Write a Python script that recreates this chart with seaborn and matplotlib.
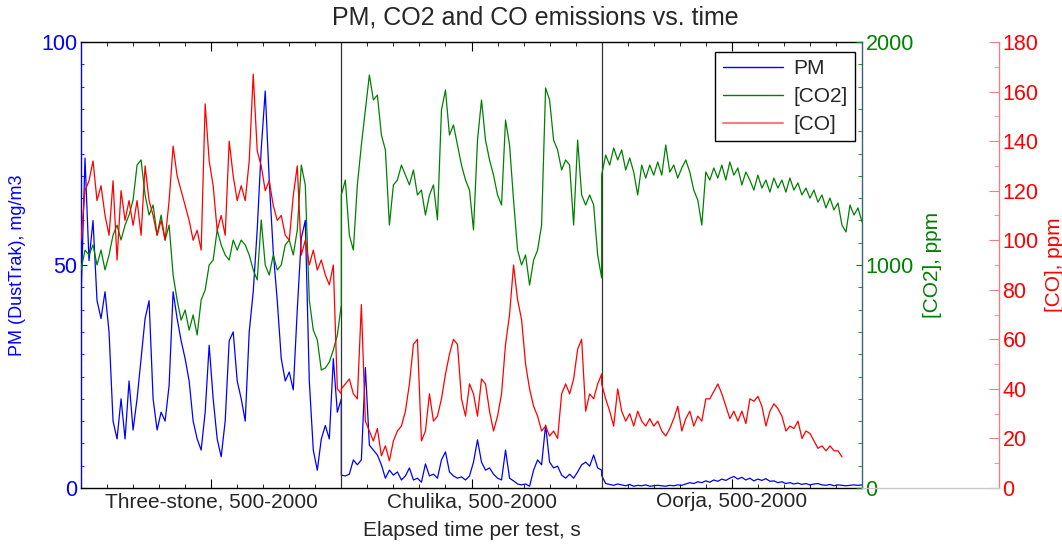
import numpy as np
import pandas as pd
import matplotlib
matplotlib.use("Agg")
import matplotlib.pyplot as plt
import seaborn as sns
from matplotlib.lines import Line2D
from matplotlib.ticker import MultipleLocator, FixedLocator

# ---------------- data ----------------
SEGMENTS = ["Three-stone, 500-2000", "Chulika, 500-2000", "Oorja, 500-2000"]
SEG_LEN = 1500            # seconds shown per test (500-2000 s)
CO_OORJA_END = 1385       # CO record of the Oorja test stops early

pm_three_stone = [42, 74, 51, 60, 42, 38, 44, 35, 15, 11, 20, 11, 24, 13, 20, 29, 38, 42, 20, 13,
                  17, 15, 23, 44, 38, 33, 29, 24, 15, 11, 8.5, 17, 32, 20, 11, 7, 15, 33, 35, 24,
                  20, 15, 35, 44, 58, 76, 89, 69, 53, 42, 29, 24, 26, 22, 40, 56, 60, 24, 8.5, 4,
                  11, 14, 11, 29, 17, 20]
pm_chulika = [2.9, 2.7, 3.1, 6.3, 5.2, 6.3, 27, 9.6, 8.5, 7.4, 5.2, 2.2, 4.0, 2.9, 3.6, 1.8, 2.7, 4.5,
              1.8, 2.2, 1.3, 5.4, 2.7, 3.1, 2.2, 6.3, 8.1, 3.6, 2.7, 2.2, 2.5, 1.8, 2.7, 5.8, 10.8,
              5.8, 4.0, 4.5, 3.1, 2.2, 1.8, 8.5, 2.2, 1.6, 0.9, 0.7, 0.9, 0.4, 4.0, 6.3, 5.2, 14.1,
              5.8, 4.5, 4.9, 2.9, 2.2, 3.1, 2.2, 3.6, 5.2, 5.8, 4.9, 7.4, 4.5, 4.0]
pm_oorja = [2.8, 1.0, 0.8, 0.6, 0.9, 0.7, 0.5, 0.8, 0.4, 0.6, 0.5, 0.7, 0.4, 0.5, 0.6, 0.5, 0.4, 0.6,
            0.5, 0.7, 0.6, 0.9, 1.2, 1.0, 1.4, 1.2, 1.6, 1.3, 1.8, 1.5, 2.0, 1.7, 2.2, 2.6, 2.0, 2.4,
            1.8, 2.2, 1.6, 2.0, 1.7, 2.1, 1.5, 1.6, 1.2, 1.4, 1.0, 1.2, 0.9, 1.1, 0.8, 1.0, 0.7, 0.9,
            1.0, 0.7, 0.6, 0.8, 0.5, 0.7, 0.6, 0.5, 0.6, 0.7, 0.6, 0.7]

co2_three_stone = [978, 1067, 1045, 1090, 1000, 1067, 978, 1045, 1134, 1179, 1112, 1179, 1224, 1291,
                   1448, 1471, 1314, 1224, 1269, 1134, 1224, 1112, 1179, 955, 843, 753, 798, 708,
                   776, 686, 843, 888, 1000, 1022, 1157, 1090, 1045, 1022, 1112, 1067, 1112, 1090,
                   1045, 978, 933, 1202, 1000, 955, 1045, 978, 1000, 1090, 1112, 1045, 1157, 1448,
                   1359, 843, 708, 664, 529, 538, 565, 619, 686, 821]
co2_chulika = [1314, 1381, 1134, 1067, 1359, 1538, 1695, 1852, 1740, 1762, 1583, 1516, 1179, 1359,
               1381, 1448, 1403, 1359, 1426, 1314, 1336, 1224, 1314, 1359, 1202, 1695, 1785, 1583,
               1628, 1538, 1448, 1381, 1336, 1157, 1560, 1740, 1560, 1471, 1403, 1314, 1269, 1650,
               1538, 1291, 1067, 1000, 1045, 910, 1022, 1067, 1179, 1794, 1740, 1560, 1516, 1426,
               1471, 1448, 1179, 1560, 1314, 1269, 1314, 1269, 1045, 942]
co2_oorja = [1404, 1493, 1448, 1525, 1471, 1516, 1426, 1480, 1417, 1314, 1448, 1390, 1448, 1403,
             1462, 1403, 1538, 1417, 1448, 1390, 1435, 1471, 1417, 1336, 1291, 1179, 1417, 1381,
             1435, 1390, 1448, 1381, 1462, 1403, 1435, 1359, 1417, 1381, 1336, 1403, 1345, 1381,
             1327, 1390, 1345, 1381, 1327, 1390, 1336, 1368, 1314, 1345, 1300, 1336, 1282, 1314,
             1256, 1300, 1247, 1278, 1179, 1148, 1269, 1224, 1256, 1193]

co_three_stone = [100, 120, 124, 132, 116, 122, 110, 102, 124, 92, 120, 108, 116, 106, 116, 102, 130,
                  116, 110, 102, 108, 100, 116, 138, 126, 120, 114, 108, 100, 104, 96, 155, 132, 122,
                  104, 110, 102, 140, 126, 116, 122, 116, 132, 167, 136, 130, 120, 124, 114, 108,
                  110, 102, 100, 118, 130, 94, 100, 90, 96, 88, 92, 86, 82, 90, 40, 38]
co_chulika = [40, 42, 44, 38, 36, 74, 27, 23, 19, 24, 13, 17, 11, 19, 23, 25, 31, 42, 58, 60, 19, 23,
              38, 27, 29, 36, 46, 54, 60, 58, 36, 29, 42, 38, 29, 44, 42, 31, 23, 29, 38, 58, 70, 90,
              76, 68, 50, 40, 33, 29, 23, 25, 21, 23, 20, 38, 42, 38, 44, 56, 60, 31, 38, 36, 42, 46]
co_oorja = [42, 36, 31, 25, 40, 31, 27, 30, 25, 31, 27, 25, 28, 25, 27, 23, 21, 24, 28, 33, 23, 28,
            31, 25, 29, 27, 36, 36, 39, 42, 38, 33, 28, 31, 27, 31, 26, 36, 35, 37, 33, 25, 31, 34,
            32, 29, 23, 25, 24, 27, 20, 23, 22, 19, 16, 17, 15, 17, 15, 15, 12.5]


def build(segments, ends):
    frames = []
    for i, (vals, end) in enumerate(zip(segments, ends)):
        t = i * SEG_LEN + np.linspace(0, end, len(vals))
        frames.append(pd.DataFrame({"t": t, "v": vals}))
    return pd.concat(frames, ignore_index=True)


pm_df = build([pm_three_stone, pm_chulika, pm_oorja], [SEG_LEN] * 3)
co2_df = build([co2_three_stone, co2_chulika, co2_oorja], [SEG_LEN] * 3)
co_df = build([co_three_stone, co_chulika, co_oorja], [SEG_LEN, SEG_LEN, CO_OORJA_END])

# ---------------- style ----------------
sns.set_style("white")
plt.rcParams["font.family"] = ["Liberation Sans", "DejaVu Sans"]
FS = 15
BLUE, GREEN, RED = "#0000ff", "#008000", "#ff0000"
RED_AXIS = "#f08080"

fig = plt.figure(figsize=(10.62, 5.44), dpi=100)
W_PX, H_PX = 1062, 544
L, R, T, B = 81, 862, 42, 488
R3 = 999
ax1 = fig.add_axes([L / W_PX, 1 - B / H_PX, (R - L) / W_PX, (B - T) / H_PX])
ax2 = ax1.twinx()
ax3 = fig.add_axes([L / W_PX, 1 - B / H_PX, (R3 - L) / W_PX, (B - T) / H_PX])
ax3.patch.set_visible(False)

XMAX = 3 * SEG_LEN
X3MAX = XMAX * (R3 - L) / (R - L)

sns.lineplot(data=pm_df, x="t", y="v", ax=ax1, color=BLUE, lw=0.9,
             estimator=None, sort=False, legend=False)
sns.lineplot(data=co2_df, x="t", y="v", ax=ax2, color=GREEN, lw=0.9,
             estimator=None, sort=False, legend=False)
sns.lineplot(data=co_df, x="t", y="v", ax=ax3, color=RED, lw=0.9,
             estimator=None, sort=False, legend=False)

# ---- main axes (PM) ----
ax1.set_xlim(0, XMAX)
ax1.set_ylim(0, 100)
for xd in (SEG_LEN, 2 * SEG_LEN):
    ax1.axvline(xd, color="#333333", lw=0.9)
ax1.xaxis.set_major_locator(FixedLocator([SEG_LEN * (i + 0.5) for i in range(3)]))
ax1.set_xticklabels(SEGMENTS, fontsize=FS)
ax1.xaxis.set_minor_locator(MultipleLocator(SEG_LEN / 10))
ax1.tick_params(axis="x", which="both", direction="in", top=True, bottom=True, color="black", pad=3)
ax1.tick_params(axis="x", which="major", length=6.5)
ax1.tick_params(axis="x", which="minor", length=3)
ax1.yaxis.set_major_locator(MultipleLocator(50))
ax1.yaxis.set_minor_locator(MultipleLocator(5))
ax1.tick_params(axis="y", which="both", direction="in", left=True, right=False,
                color=BLUE, labelcolor=BLUE, labelsize=FS + 0.5, pad=2.5)
ax1.tick_params(axis="y", which="major", length=4)
ax1.tick_params(axis="y", which="minor", length=2.5)
ax1.spines["left"].set_color(BLUE)
ax1.spines["right"].set_visible(False)
for s in ("top", "bottom"):
    ax1.spines[s].set_color("black")
for s in ax1.spines.values():
    s.set_linewidth(1.0)
ax1.set_xlabel("Elapsed time per test, s", fontsize=FS, va="center")
ax1.xaxis.set_label_coords(0.5, (B - 531) / (B - T))
ax1.set_ylabel("PM (DustTrak), mg/m3", fontsize=13, color=BLUE, va="center")
ax1.yaxis.set_label_coords((18 - L) / (R - L), 0.5)

# ---- CO2 axis ----
ax2.set_ylim(0, 2000)
ax2.yaxis.set_major_locator(MultipleLocator(1000))
ax2.yaxis.set_minor_locator(MultipleLocator(100))
ax2.tick_params(axis="y", which="both", direction="in", right=True, left=False,
                color=GREEN, labelcolor=GREEN, labelsize=FS + 0.5, pad=2.5)
ax2.tick_params(axis="y", which="major", length=4)
ax2.tick_params(axis="y", which="minor", length=3)
for s in ("left", "top", "bottom"):
    ax2.spines[s].set_visible(False)
ax2.spines["right"].set_color("#2f6870")
ax2.spines["right"].set_linewidth(1.0)
ax2.set_ylabel("[CO2], ppm", fontsize=FS, color=GREEN, va="center")
ax2.yaxis.set_label_coords((933 - L) / (R - L), 0.5)

# ---- CO axis ----
ax3.set_xlim(0, X3MAX)
ax3.set_ylim(0, 180)
ax3.set_xticks([])
ax3.yaxis.tick_right()
ax3.yaxis.set_label_position("right")
ax3.yaxis.set_major_locator(MultipleLocator(20))
ax3.yaxis.set_minor_locator(MultipleLocator(10))
ax3.tick_params(axis="y", which="both", direction="in", right=True, left=False,
                color=RED_AXIS, labelcolor=RED, labelsize=FS + 0.5, pad=2.5)
ax3.tick_params(axis="y", which="major", length=7)
ax3.tick_params(axis="y", which="minor", length=3.5)
for s in ("left", "top"):
    ax3.spines[s].set_visible(False)
ax3.spines["right"].set_color(RED_AXIS)
ax3.spines["right"].set_linewidth(1.0)
ax3.spines["bottom"].set_color("#c8c8c8")
ax3.spines["bottom"].set_linewidth(1.0)
ax3.spines["bottom"].set_bounds(XMAX, X3MAX)
ax3.set_ylabel("[CO], ppm", fontsize=FS, color=RED, va="center")
ax3.yaxis.set_label_coords((1054 - L) / (R3 - L), 0.5)
ax3.set_xlabel("")

# ---- legend & title ----
handles = [Line2D([], [], color=BLUE, lw=1.0),
           Line2D([], [], color=GREEN, lw=1.0),
           Line2D([], [], color=RED_AXIS, lw=1.5)]
leg = ax3.legend(handles, ["PM", "[CO2]", "[CO]"], loc="upper right",
                 bbox_to_anchor=(855 / W_PX, 1 - 52 / H_PX), bbox_transform=fig.transFigure,
                 borderaxespad=0, fancybox=False, framealpha=1, edgecolor="black",
                 fontsize=FS, handlelength=2.9, labelspacing=0.42, borderpad=0.35,
                 handletextpad=0.5)
leg.get_frame().set_linewidth(1.0)

fig.text(535 / W_PX, 1 - 17 / H_PX, "PM, CO2 and CO emissions vs. time",
         ha="center", va="center", fontsize=18)

fig.savefig("out.png", dpi=100)
